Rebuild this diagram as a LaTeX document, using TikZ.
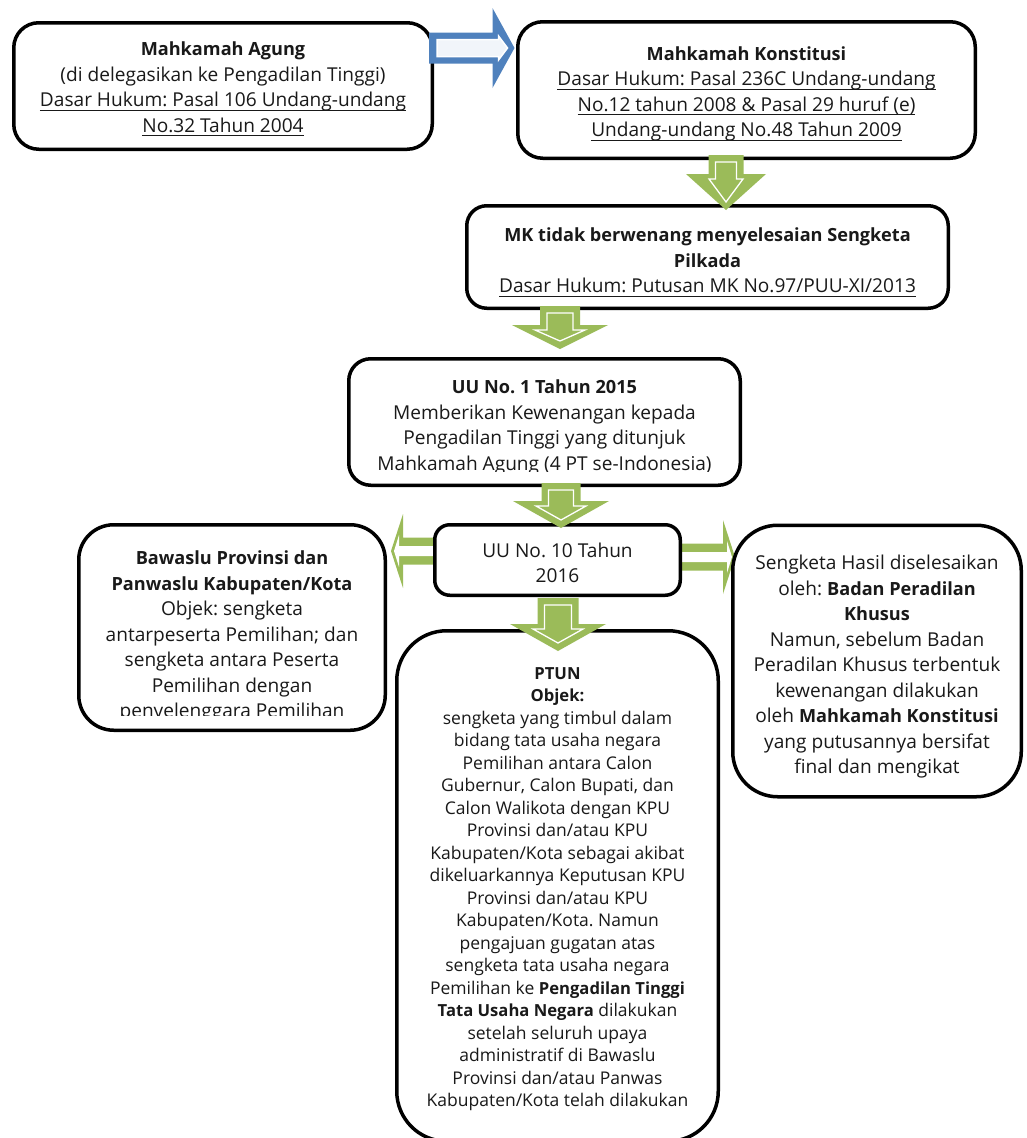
\documentclass[tikz,border=0pt]{standalone}
\usepackage{fontspec}
\setmainfont{Open Sans}[BoldFeatures={Scale=0.95}]
\usetikzlibrary{calc,backgrounds}
\definecolor{arrowgreen}{HTML}{9BBB59}
\definecolor{arrowblue}{HTML}{4F81BD}
\tikzstyle{lawbox} = [draw=black, fill=white, line width=3.5pt,
    rectangle, align=center, text=black!90, inner sep=0pt,
    font=\fontsize{19.1pt}{25.5pt}\selectfont]
\tikzstyle{lawtext} = [align=center, text=black!90, inner sep=0pt,
    font=\fontsize{19.1pt}{25.5pt}\selectfont]
% underlined line of text
\newcommand{\lawline}[1]{\leavevmode\setbox0\hbox{#1}\rlap{\rule[-4pt]{\wd0}{1pt}}\box0}
% invisible strut on the first line, pushes the text block down a little
\newcommand{\lawstrut}[1][22pt]{\rule{0pt}{#1}}
% block arrow downwards: #1 top, #2 tip, #3 body half, #4 head half, #5 head length
\newcommand{\greendown}[5]{%
  \fill[arrowgreen] let \p1=(#1), \p2=(#2) in
    (\x2-#3pt,\y1) -- (\x2+#3pt,\y1) -- (\x2+#3pt,\y2+#5pt) -- (\x2+#4pt,\y2+#5pt)
    -- (\x2,\y2) -- (\x2-#4pt,\y2+#5pt) -- (\x2-#3pt,\y2+#5pt) -- cycle;
  \draw[white, line width=1.3pt] let \p1=(#1), \p2=(#2) in
    (\x2-#3pt+7pt,\y1-7pt) -- (\x2+#3pt-7pt,\y1-7pt) -- (\x2+#3pt-7pt,\y2+#5pt-5pt)
    -- (\x2+#4pt-23pt,\y2+#5pt-5pt) -- (\x2,\y2+8pt) -- (\x2-#4pt+23pt,\y2+#5pt-5pt)
    -- (\x2-#3pt+7pt,\y2+#5pt-5pt) -- cycle;}
% block arrow to the right: #1 start, #2 tip
\newcommand{\bluearrow}[2]{%
  \fill[arrowblue] let \p1=(#1), \p2=(#2) in
    (\x1,\y2+15.5pt) -- (\x2-22pt,\y2+15.5pt) -- (\x2-22pt,\y2+40pt) -- (\x2,\y2)
    -- (\x2-22pt,\y2-40pt) -- (\x2-22pt,\y2-15.5pt) -- (\x1,\y2-15.5pt) -- cycle;
  \filldraw[fill=white!92!arrowblue, draw=white, line width=1.5pt] let \p1=(#1), \p2=(#2) in
    (\x1+8pt,\y2+8.5pt) -- (\x2-16pt,\y2+8.5pt) -- (\x2-16pt,\y2+12pt) -- (\x2-7pt,\y2)
    -- (\x2-16pt,\y2-12pt) -- (\x2-16pt,\y2-8.5pt) -- (\x1+8pt,\y2-8.5pt) -- cycle;}
% hollow side arrow: #1 start (sets the level), #2 tip, #3 direction (1 right, -1 left)
\newcommand{\greenside}[3]{%
  \fill[arrowgreen] let \p1=(#1), \p2=(#2) in
    (\x1,\y1+13.5pt) -- (\x2-#3*12pt,\y1+13.5pt) -- (\x2-#3*12pt,\y1+37pt) -- (\x2,\y1)
    -- (\x2-#3*12pt,\y1-37pt) -- (\x2-#3*12pt,\y1-13.5pt) -- (\x1,\y1-13.5pt) -- cycle;
  \fill[white] let \p1=(#1), \p2=(#2) in
    (\x1,\y1+5pt) -- (\x2-#3*8pt,\y1+5pt) -- (\x2-#3*8pt,\y1+16pt) -- (\x2-#3*3pt,\y1)
    -- (\x2-#3*8pt,\y1-16pt) -- (\x2-#3*8pt,\y1-5pt) -- (\x1,\y1-5pt) -- cycle;}

\begin{document}
\frenchspacing
\begin{tikzpicture}[x=1pt,y=-1pt]
\useasboundingbox (0,0) rectangle (1027,1138);
\clip (0,0) rectangle (1027,1138);

% upper row
\node[lawbox, rounded corners=25pt, minimum width=418.5pt, minimum height=126.5pt]
  (agung) at (223,86) {\lawstrut[20pt]\textbf{Mahkamah Agung}\\
  (di delegasikan ke Pengadilan Tinggi)\\
  \lawline{Dasar Hukum: Pasal 106 Undang-undang}\\
  \lawline{No.32 Tahun 2004}};
\node[lawbox, rounded corners=25pt, minimum width=457.5pt, minimum height=136.5pt]
  (mk) at (746.5,90) {\lawstrut\textbf{Mahkamah Konstitusi}\\
  \lawline{Dasar Hukum: Pasal 236C Undang-undang}\\
  \lawline{No.12 tahun 2008 \& Pasal 29 huruf (e)}\\
  \lawline{Undang-undang No.48 Tahun 2009}};
\bluearrow{[xshift=-5pt]agung.east}{[xshift=-1.5pt,yshift=42pt]mk.west}

\node[lawbox, rounded corners=20pt, minimum width=481.5pt, minimum height=102.5pt]
  (mktidak) at (707.5,257) {\lawstrut[24pt]\textbf{MK tidak berwenang menyelesaian Sengketa}\\
  \textbf{Pilkada}\\
  \lawline{Dasar Hukum: Putusan MK No.97/PUU-XI/2013}};
\greendown{[yshift=5pt]mk.south}{[xshift=18.5pt,yshift=-6pt]mktidak.north}{17.5}{40}{36}

% UU No. 1 Tahun 2015
\node[lawbox, rounded corners=22pt, minimum width=391.5pt, minimum height=126.5pt]
  (uu1) at (544.5,422) {};
\begin{scope}
  \clip (uu1.north west) rectangle ([yshift=15.5pt]uu1.south east);
  \node[lawtext] (uu1text) at ([yshift=-5.5pt]uu1.center) {\textbf{UU No. 1 Tahun 2015}\\
    Memberikan Kewenangan kepada\\
    Pengadilan Tinggi yang ditunjuk\\
    Mahkamah Agung (4 PT se-Indonesia)};
\end{scope}
\greendown{[yshift=4pt]mktidak.south}{[xshift=15.5pt,yshift=8pt]uu1.north}{20}{48}{24}

% UU No. 10 Tahun 2016 and its three branches
\node[lawbox, rounded corners=15pt, minimum width=245.5pt, minimum height=70.5pt]
  (uu10) at (557.5,560) {\lawstrut[20.5pt]UU No. 10 Tahun\\ 2016};
\node[lawbox, rounded corners=35pt, minimum width=306.5pt, minimum height=205.5pt]
  (bawaslu) at (232,627.5) {};
\begin{scope}
  \clip (bawaslu.north west) rectangle ([yshift=16.5pt]bawaslu.south east);
  \node[lawtext] (bawaslutext) at ([yshift=-9pt]bawaslu.center) {\textbf{Bawaslu Provinsi dan}\\
    \textbf{Panwaslu Kabupaten/Kota}\\
    Objek: sengketa\\
    antarpeserta Pemilihan; dan\\
    sengketa antara Peserta\\
    Pemilihan dengan\\
    penyelenggara Pemilihan};
\end{scope}
\node[lawbox, rounded corners=45pt, minimum width=288.5pt, minimum height=271.5pt]
  (hasil) at (877,661) {\lawstrut[26.5pt]Sengketa Hasil diselesaikan\\
  oleh: \textbf{Badan Peradilan}\\
  \textbf{Khusus}\\
  Namun, sebelum Badan\\
  Peradilan Khusus terbentuk\\
  kewenangan dilakukan\\
  oleh \textbf{Mahkamah Konstitusi}\\
  yang putusannya bersifat\\
  final dan mengikat};
\begin{scope}[on background layer]
  \greenside{[xshift=4pt,yshift=9pt]uu10.west}{[xshift=4pt]bawaslu.east}{-1}
  \greenside{[xshift=-4pt,yshift=3pt]uu10.east}{[xshift=4pt]hasil.west}{1}
\end{scope}

% PTUN
\node[lawbox, rounded corners=50pt, minimum width=321.5pt, minimum height=510.5pt,
  font=\fontsize{17.5pt}{22.5pt}\selectfont]
  (ptun) at (557.5,886) {\lawstrut[18pt]\textbf{PTUN}\\
  \textbf{Objek:}\\
  sengketa yang timbul dalam\\
  bidang tata usaha negara\\
  Pemilihan antara Calon\\
  Gubernur, Calon Bupati, dan\\
  Calon Walikota dengan KPU\\
  Provinsi dan/atau KPU\\
  Kabupaten/Kota sebagai akibat\\
  dikeluarkannya Keputusan KPU\\
  Provinsi dan/atau KPU\\
  Kabupaten/Kota. Namun\\
  pengajuan gugatan atas\\
  sengketa tata usaha negara\\
  Pemilihan ke \textbf{Pengadilan Tinggi}\\
  \textbf{Tata Usaha Negara} dilakukan\\
  setelah seluruh upaya\\
  administratif di Bawaslu\\
  Provinsi dan/atau Panwas\\
  Kabupaten/Kota telah dilakukan};
\greendown{[yshift=4pt]uu1.south}{[xshift=3.5pt,yshift=-5pt]uu10.north}{19.5}{48}{27}
\greendown{[yshift=-1pt]uu10.south}{[xshift=0.5pt,yshift=-22pt]ptun.north}{20.5}{48}{27}
\end{tikzpicture}
\end{document}
